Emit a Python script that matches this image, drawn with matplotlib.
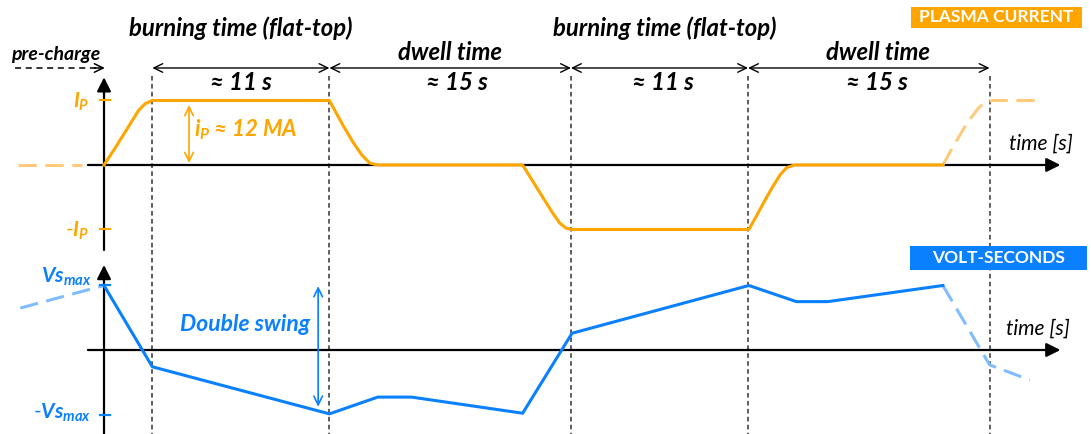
import matplotlib
matplotlib.use('Agg')
import matplotlib.pyplot as plt
from matplotlib.patches import Rectangle

plt.rcParams['font.family'] = ['Lato', 'DejaVu Sans']
plt.rcParams['mathtext.fontset'] = 'custom'
plt.rcParams['mathtext.it'] = 'Lato:italic:bold'
plt.rcParams['mathtext.rm'] = 'Lato:bold'
plt.rcParams['mathtext.bf'] = 'Lato:bold'

ORANGE = '#FFA500'
ORANGE_LIGHT = '#FFCB7A'
BLUE = '#0A80FF'
BLUE_LIGHT = '#80BDFF'

# phase boundaries [s] and labels
t_bounds = [3, 14, 29, 40, 55]
phase_names = ['burning time (flat-top)', 'dwell time', 'burning time (flat-top)', 'dwell time']
phase_len = ['≈ 11 s', '≈ 15 s', '≈ 11 s', '≈ 15 s']
phase_name_t = [8.5, 21.5, 34.8, 48.1]
phase_len_t = [8.5, 21.9, 34.7, 48.0]

# plasma current (normalised to Ip)
ip_t = [0, 0.68, 1.41, 2.13, 2.55, 3.0,
        14.0, 14.3, 14.9, 15.5, 16.0, 16.5, 17.0,
        26.0, 26.6, 27.2, 27.8, 28.3, 28.7, 29.05,
        40.05, 40.5, 41.0, 41.5, 42.0, 42.4, 42.9, 52.1]
ip_v = [0, 0.26, 0.55, 0.84, 0.95, 1.0,
        1.0, 0.86, 0.59, 0.34, 0.16, 0.03, 0.0,
        0.0, -0.24, -0.48, -0.72, -0.9, -0.98, -1.0,
        -1.0, -0.8, -0.57, -0.35, -0.15, -0.04, 0.0, 0.0]
ip_prev_t = [-5.35, -1.37]
ip_prev_v = [0, 0]
ip_next_t = [52.1, 52.86, 53.6, 54.3, 54.7, 55.2, 58.1]
ip_next_v = [0, 0.34, 0.65, 0.88, 0.97, 1.0, 1.0]

# volt-seconds (normalised to Vs_max)
vs_t = [0, 3.0, 14.0, 17.0, 19.1, 26.0, 29.07, 40.05, 43.0, 44.96, 52.1]
vs_v = [1.0, -0.26, -0.99, -0.73, -0.73, -0.98, 0.26, 1.0, 0.75, 0.75, 1.0]
vs_prev_t = [-5.2, 0]
vs_prev_v = [0.65, 1.0]
vs_next_t = [52.1, 55.0, 57.5]
vs_next_v = [1.0, -0.23, -0.465]

W, H = 1091, 434
fig = plt.figure(figsize=(W / 100, H / 100), dpi=100)
ax1 = fig.add_axes([0, 184 / H, 1, 250 / H])
ax2 = fig.add_axes([0, 0, 1, 184 / H])
for ax in (ax1, ax2):
    ax.set_xlim(-6.46, 61.3)
    ax.axis('off')
ax1.set_ylim(-1.318, 2.558)
ax2.set_ylim(-1.302, 1.550)

axis_arrow = dict(arrowstyle='-|>,head_length=0.6,head_width=0.3', lw=1.6, color='black',
                  shrinkA=0, shrinkB=0, mutation_scale=14)
span_arrow = dict(arrowstyle='<->,head_length=0.45,head_width=0.22', lw=1.0, color='black',
                  shrinkA=0, shrinkB=0, mutation_scale=14)

# vertical phase markers
for tb in t_bounds:
    ax1.plot([tb, tb], [1.38, -1.318], color='#333333', lw=1.1, ls=(0, (3, 2.2)), clip_on=False, zorder=1)
    ax2.plot([tb, tb], [1.55, -1.302], color='#333333', lw=1.1, ls=(0, (3, 2.2)), clip_on=False, zorder=1)

# --- top panel: plasma current
ax1.annotate('', xy=(59.4, 0), xytext=(-1.0, 0), arrowprops=axis_arrow, zorder=2)
ax1.annotate('', xy=(0, 1.36), xytext=(0, -1.318), arrowprops=axis_arrow, zorder=2)
ax1.plot(ip_prev_t, ip_prev_v, color=ORANGE_LIGHT, lw=2.2, ls=(0, (6, 2.8)))
ax1.plot(ip_next_t, ip_next_v, color=ORANGE_LIGHT, lw=2.2, ls=(0, (6, 2.8)))
ax1.plot(ip_t, ip_v, color=ORANGE, lw=2.2, zorder=3)
for v in (1, -1):
    ax1.plot([-0.25, 0.37], [v, v], color=ORANGE, lw=1.6, zorder=3)
ax1.text(-0.9, 0.98, r'$I_P$', color=ORANGE, fontsize=15, ha='right', va='center')
ax1.text(-0.9, -1.02, r'-$I_P$', color=ORANGE, fontsize=15, ha='right', va='center')
ax1.annotate('', xy=(5.28, 0.93), xytext=(5.28, 0.03),
             arrowprops=dict(span_arrow, color=ORANGE, lw=1.2))
ax1.text(5.6, 0.54, r'$i_P$ ≈ 12 MA', color=ORANGE, fontsize=16, fontweight='bold',
         style='italic', ha='left', va='center')
ax1.text(56.2, 0.33, 'time [s]', fontsize=15, style='italic', ha='left', va='center')

# time spans
edges = [3] + t_bounds[1:]
for i in range(4):
    ax1.annotate('', xy=(edges[i + 1], 1.504), xytext=(edges[i], 1.504), arrowprops=span_arrow)
    ax1.text(phase_name_t[i], 2.12 if i % 2 == 0 else 1.75, phase_names[i], fontsize=17.2,
             fontweight='bold', style='italic', ha='center', va='center')
    ax1.text(phase_len_t[i], 1.28, phase_len[i], fontsize=17.2, fontweight='bold',
             style='italic', ha='center', va='center')

# pre-charge arrow
ax1.plot([-5.5, -0.4], [1.504, 1.504], color='black', lw=1.1, ls=(0, (4, 3)))
ax1.annotate('', xy=(0.05, 1.504), xytext=(-0.6, 1.504),
             arrowprops=dict(arrowstyle='->,head_length=0.45,head_width=0.22', lw=1.1,
                             color='black', shrinkA=0, shrinkB=0, mutation_scale=14))
ax1.text(-3.0, 1.71, 'pre-charge', fontsize=14, fontweight='bold', style='italic',
         ha='center', va='center')

# --- bottom panel: volt-seconds
ax2.annotate('', xy=(59.4, 0), xytext=(-1.0, 0), arrowprops=axis_arrow, zorder=2)
ax2.annotate('', xy=(0, 1.318), xytext=(0, -1.302), arrowprops=axis_arrow, zorder=2)
ax2.plot(vs_prev_t, vs_prev_v, color=BLUE_LIGHT, lw=2.2, ls=(0, (6, 2.8)))
ax2.plot(vs_next_t, vs_next_v, color=BLUE_LIGHT, lw=2.2, ls=(0, (6, 2.8)))
ax2.plot(vs_t, vs_v, color=BLUE, lw=2.2, zorder=3)
for v in (1, -1):
    ax2.plot([-0.25, 0.37], [v, v], color=BLUE, lw=1.6, zorder=3)
ax2.text(-0.8, 1.14, r'$Vs_{max}$', color=BLUE, fontsize=15, ha='right', va='center')
ax2.text(-0.8, -0.98, r'-$Vs_{max}$', color=BLUE, fontsize=15, ha='right', va='center')
ax2.annotate('', xy=(13.3, 0.99), xytext=(13.3, -0.88),
             arrowprops=dict(span_arrow, color=BLUE, lw=1.2))
ax2.text(8.75, 0.39, 'Double swing', color=BLUE, fontsize=16.5, fontweight='bold',
         style='italic', ha='center', va='center')
ax2.text(56.0, 0.33, 'time [s]', fontsize=15, style='italic', ha='left', va='center')

# header boxes
for (x0, y0, x1, y1, col, label) in [(911, 7, 1082, 28, ORANGE, 'PLASMA CURRENT'),
                                     (910, 246, 1087, 270, BLUE, 'VOLT-SECONDS')]:
    fig.add_artist(Rectangle((x0 / W, 1 - y1 / H), (x1 - x0) / W, (y1 - y0) / H,
                             transform=fig.transFigure, color=col, lw=0))
    fig.text((x0 + x1) / 2 / W, 1 - (y0 + y1) / 2 / H, label, color='white', fontsize=12.5,
             fontweight='bold', ha='center', va='center')

fig.savefig('out.png', dpi=100)
